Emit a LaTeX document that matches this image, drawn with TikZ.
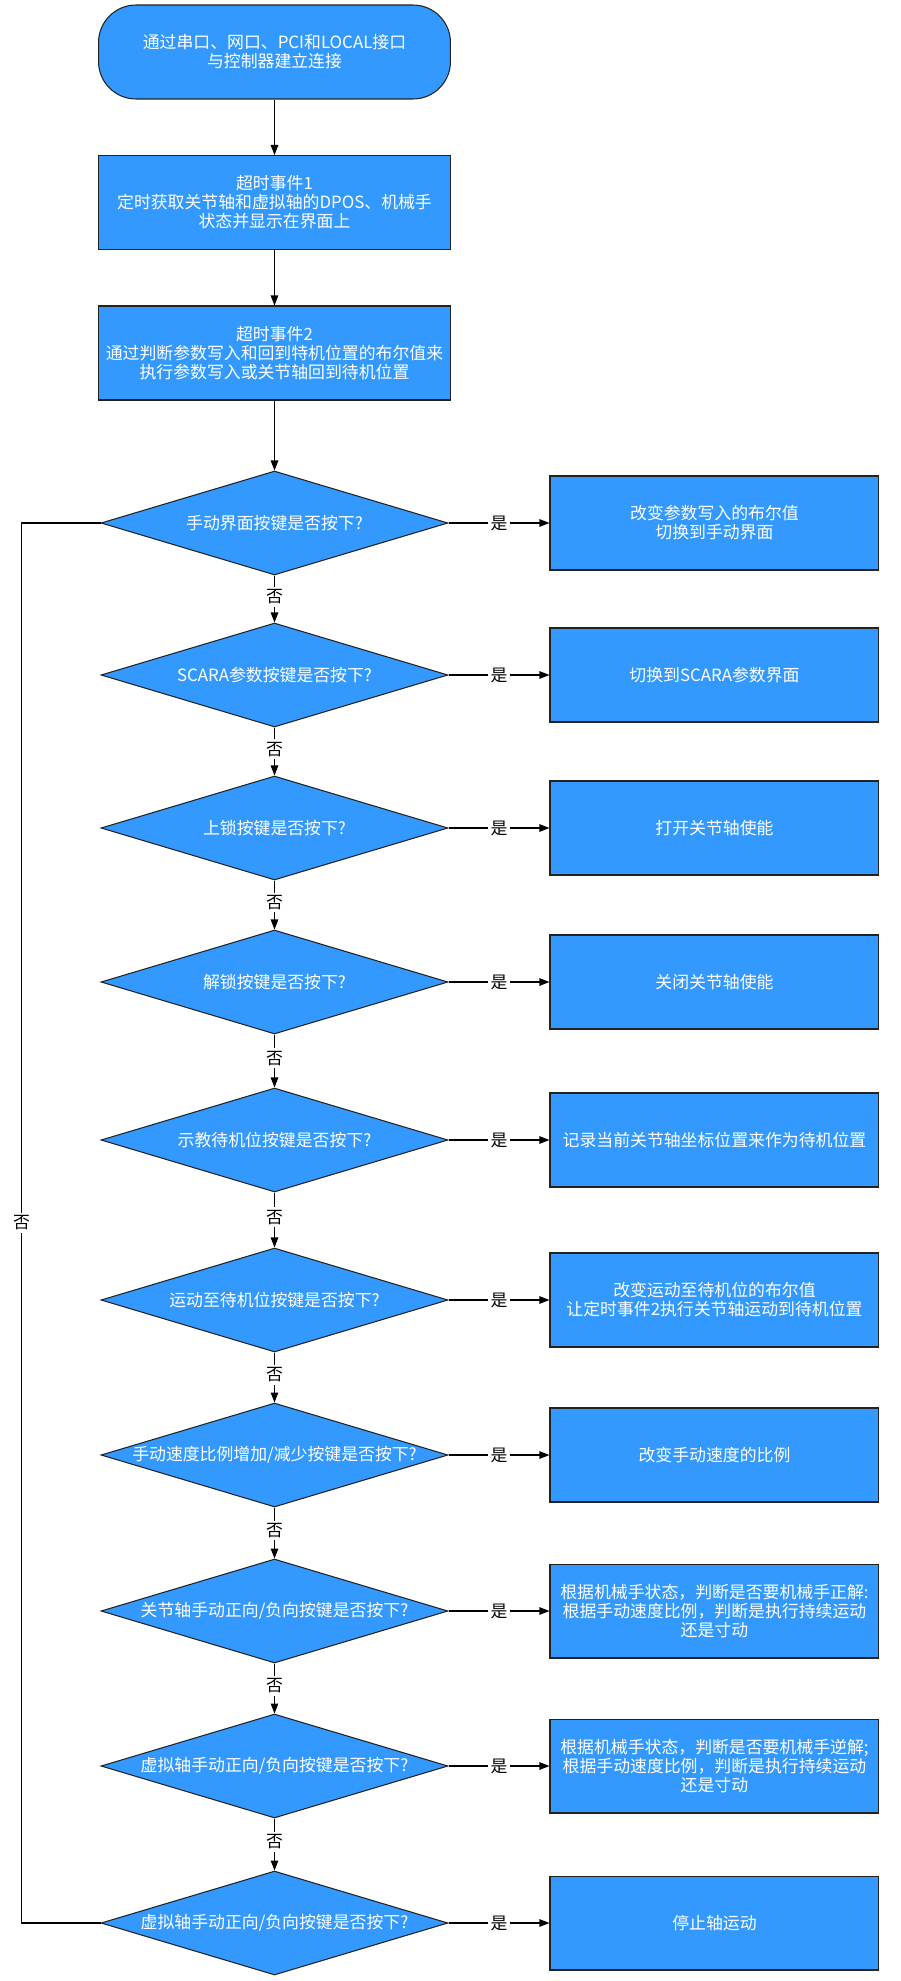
\documentclass[tikz,border=0pt]{standalone}
\usepackage{fontspec}
\setmainfont{Noto Sans CJK SC}
\usepackage{xcolor}
\usepackage{tikz}
\usetikzlibrary{positioning,arrows.meta,shapes.geometric,calc}
\definecolor{flowblue}{RGB}{51,153,255}
\definecolor{flowedge}{RGB}{34,34,34}
\newcommand\flowfont{\fontsize{9.6pt}{10.8pt}\selectfont}
\newcommand\dtxt[1]{\makebox[0pt]{#1}}
\tikzset{
  startbox/.style={rounded corners=0.75cm, draw=flowedge, line width=0.6pt, fill=flowblue, text=white, align=center, minimum width=7.04cm, minimum height=1.88cm, font=\flowfont},
  procbox/.style={draw=flowedge, line width=0.6pt, fill=flowblue, text=white, align=center, minimum width=7.04cm, minimum height=1.88cm, font=\flowfont},
  decbox/.style={diamond, draw=flowedge, line width=0.6pt, fill=flowblue, text=white, inner sep=0pt, minimum width=6.94cm, minimum height=2.08cm, font=\flowfont},
  actbox/.style={draw=flowedge, line width=0.6pt, fill=flowblue, text=white, align=center, minimum width=6.58cm, minimum height=1.88cm, inner sep=0pt, font=\flowfont},
  arr/.style={-{Triangle[length=2mm,width=1.5mm]}, line width=0.6pt, draw=black},
  lbl/.style={fill=white, inner sep=1.5pt, font=\flowfont},
}

\begin{document}
\begin{tikzpicture}[x=0.02cm, y=-0.02cm]
    \fill[white] (0,0) rectangle (900,1981);
    \useasboundingbox (0,0) rectangle (900,1981);

    % main column
    \node[startbox] (s) at (274.5,52) {通过串口、网口、PCI和LOCAL接口\\与控制器建立连接};
    \node[procbox] (e1) at (274.5,202.5) {超时事件1\\定时获取关节轴和虚拟轴的DPOS、机械手\\状态并显示在界面上};
    \node[procbox] (e2) at (274.5,353) {超时事件2\\通过判断参数写入和回到特机位置的布尔值来\\执行参数写入或关节轴回到待机位置};

    \node[decbox] (d1) at (274.5,523) {\dtxt{手动界面按键是否按下?}};
    \node[decbox] (d2) at (274.5,675) {\dtxt{SCARA参数按键是否按下?}};
    \node[decbox] (d3) at (274.5,828) {\dtxt{上锁按键是否按下?}};
    \node[decbox] (d4) at (274.5,982) {\dtxt{解锁按键是否按下?}};
    \node[decbox] (d5) at (274.5,1140) {\dtxt{示教待机位按键是否按下?}};
    \node[decbox] (d6) at (274.5,1300) {\dtxt{运动至待机位按键是否按下?}};
    \node[decbox] (d7) at (274.5,1455) {\dtxt{手动速度比例增加/减少按键是否按下?}};
    \node[decbox] (d8) at (274.5,1611) {\dtxt{关节轴手动正向/负向按键是否按下?}};
    \node[decbox] (d9) at (274.5,1766) {\dtxt{虚拟轴手动正向/负向按键是否按下?}};
    \node[decbox] (d10) at (274.5,1923) {\dtxt{虚拟轴手动正向/负向按键是否按下?}};

    % actions
    \node[actbox, right=2.02cm of d1] (a1) {改变参数写入的布尔值\\切换到手动界面};
    \node[actbox, right=2.02cm of d2] (a2) {切换到SCARA参数界面};
    \node[actbox, right=2.02cm of d3] (a3) {打开关节轴使能};
    \node[actbox, right=2.02cm of d4] (a4) {关闭关节轴使能};
    \node[actbox, right=2.02cm of d5] (a5) {记录当前关节轴坐标位置来作为待机位置};
    \node[actbox, right=2.02cm of d6] (a6) {改变运动至待机位的布尔值\\让定时事件2执行关节轴运动到待机位置};
    \node[actbox, right=2.02cm of d7] (a7) {改变手动速度的比例};
    \node[actbox, right=2.02cm of d8] (a8) {根据机械手状态，判断是否要机械手正解:\\根据手动速度比例，判断是执行持续运动\\还是寸动};
    \node[actbox, right=2.02cm of d9] (a9) {根据机械手状态，判断是否要机械手逆解;\\根据手动速度比例，判断是执行持续运动\\还是寸动};
    \node[actbox, right=2.02cm of d10] (a10) {停止轴运动};

    % connectors
    \draw[arr] (s) -- (e1);
    \draw[arr] (e1) -- (e2);
    \draw[arr] (e2) -- (d1);
    \foreach \i in {1,...,10}
      \draw[arr] (d\i) -- node[lbl]{是} (a\i);
    \foreach \i [evaluate=\i as \j using int(\i+1)] in {1,...,9}
      \draw[arr] (d\i) -- node[lbl, pos=0.45]{否} (d\j);

    % back to the first question
    \coordinate (lx) at (21.5,0);
    \draw[line width=0.6pt] (d10.west) -- (d10.west -| lx) -- node[lbl]{否} (d1.west -| lx) -- (d1.west);
\end{tikzpicture}
\end{document}
